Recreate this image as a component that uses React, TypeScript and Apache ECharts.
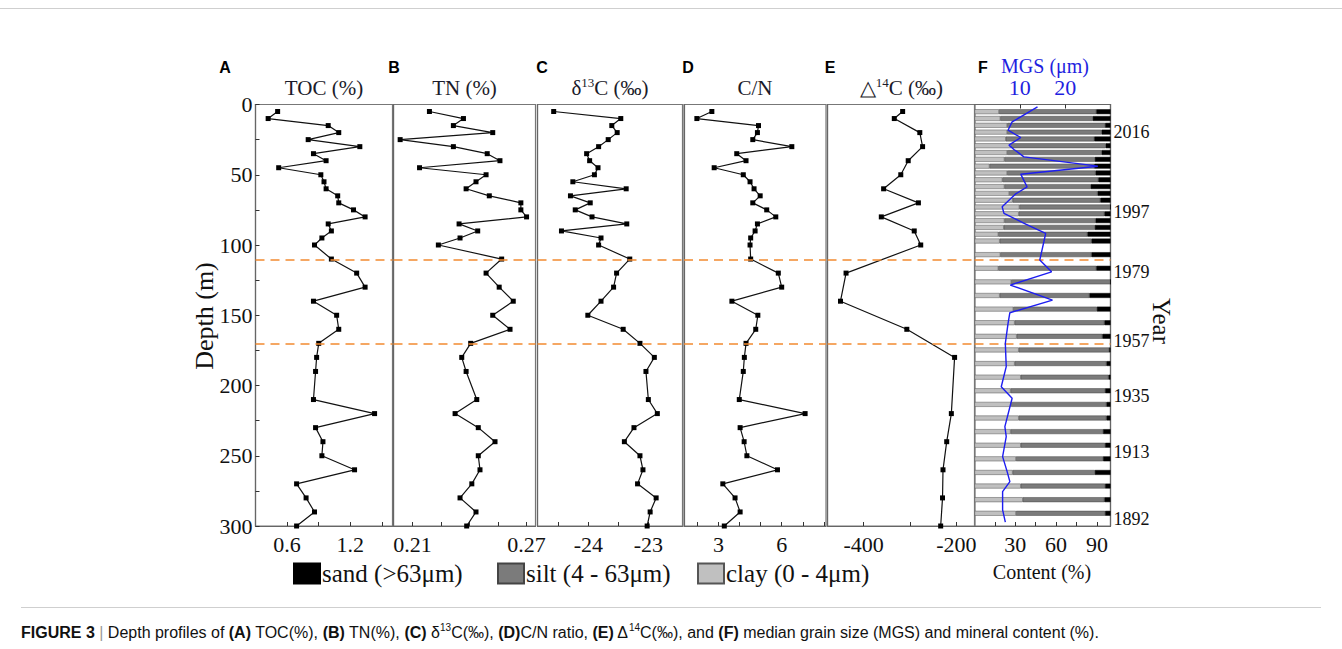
import React, { useEffect, useRef } from 'react';
import * as echarts from 'echarts';

// ---------- data ----------
const depths = [5, 10, 15, 20, 25, 30, 35, 40, 45, 50, 55, 60, 65, 70, 75, 80, 85, 90, 95, 100,
  110, 120, 130, 140, 150, 160, 170, 180, 190, 210, 220, 230, 240, 250, 260, 270, 280, 290, 300];
const toc = [0.51, 0.42, 0.99, 1.09, 0.80, 1.29, 0.85, 0.97, 0.52, 0.92, 0.95, 0.97, 1.08, 1.09, 1.23, 1.34, 0.99, 1.02, 0.93, 0.86,
  1.02, 1.26, 1.34, 0.85, 1.07, 1.09, 0.90, 0.88, 0.87, 0.85, 1.43, 0.87, 0.94, 0.93, 1.24, 0.69, 0.78, 0.86, 0.69];
const tn = [0.2189, 0.2368, 0.2315, 0.2522, 0.2035, 0.2315, 0.2493, 0.2560, 0.2137, 0.2487, 0.2434, 0.2382, 0.2504, 0.2670, 0.2670, 0.2700, 0.2345, 0.2443, 0.2350, 0.2236,
  0.2569, 0.2487, 0.2556, 0.2630, 0.2522, 0.2613, 0.2406, 0.2359, 0.2382, 0.2438, 0.2324, 0.2446, 0.2534, 0.2446, 0.2455, 0.2412, 0.2350, 0.2434, 0.2385];
const d13c = [-24.58, -23.46, -23.61, -23.52, -23.67, -23.83, -24.03, -23.98, -23.84, -23.90, -24.26, -23.37, -24.30, -23.97, -24.22, -23.94, -23.36, -24.45, -23.79, -23.83,
  -23.31, -23.53, -23.58, -23.79, -24.01, -23.42, -23.14, -22.90, -23.04, -23.00, -22.85, -23.24, -23.40, -23.14, -23.09, -23.18, -22.87, -22.97, -23.02];
const cn = [2.69, 1.98, 4.90, 4.85, 4.63, 6.48, 3.87, 4.31, 2.80, 4.18, 4.50, 4.69, 4.98, 4.63, 5.29, 5.72, 4.85, 4.74, 4.53, 4.50,
  4.53, 5.84, 6.00, 3.64, 4.87, 4.77, 4.31, 4.23, 4.18, 3.99, 7.11, 4.03, 4.22, 4.35, 5.80, 3.21, 3.79, 4.03, 3.28];
const depthsE = [5, 10, 20, 30, 40, 50, 60, 70, 80, 90, 100, 120, 140, 160, 180, 220, 240, 260, 280, 300];
const d14c = [-316, -334, -279, -273, -304, -320, -357, -282, -362, -291, -277, -438, -450, -307, -204, -211, -221, -229, -230, -234];

const mgsDepths = [1.7, 12.4, 18.3, 23.5, 28.9, 32, 37.3, 43.9, 49.6, 58.6, 63.8, 72.8, 77.5, 85.1, 91.7, 97.7, 110.7, 119.1, 128.5, 139.2,
  148.2, 155.8, 170, 186.6, 200.9, 209.1, 229.3, 236.4, 250.6, 261.3, 268.4, 275.5, 288.5, 297.3];
const mgs = [13.9, 8.3, 7.4, 10.2, 7.6, 8.7, 10.9, 27.2, 10.2, 11.6, 9.0, 6.1, 6.5, 11.3, 15.7, 15.3, 14.4, 17.0, 7.9, 17.2,
  7.8, 7.4, 6.8, 7.0, 5.9, 8.3, 6.7, 7.0, 6.2, 7.2, 7.8, 6.2, 6.2, 6.8];

const N = null;
const clay = [18, 19, 24, 24, 23, 27, 24, 22, 11, 24, 20.5, 22, 25.5, 28, 33, 32.5, 22, 21.5, 17.5, 18.5,
  N, 19, N, 17.5, N, 27, N, 18.5, N, 28.5, N, 29.5, N, 31, N, 32.5, N, 29.5, N, 34, N, 26.5, N, 27, N, 32.5, N, 26.5, N, 34, N, 30.5, N, 28, N, 34, N, 35.5, N, 30.5, N];
const silt = [71.5, 68, 72, 69.5, 65, 69.5, 69.5, 66.5, 77, 65, 70.5, 63.5, 65, 64.5, 67, 63, 67, 67, 65.5, 67.5,
  N, 67, N, 72, N, 73, N, 66, N, 61.5, N, 66, N, 63, N, 66.5, N, 67.5, N, 64.5, N, 69.5, N, 70, N, 64.5, N, 68, N, 62, N, 64, N, 60.5, N, 62, N, 60, N, 65.5, N];
const sand = [10.5, 13, 4, 6.5, 12, 3.5, 6.5, 11.5, 12, 11, 9, 14.5, 9.5, 7.5, 0, 4.5, 11, 11.5, 17, 14,
  N, 14, N, 10.5, N, 0, N, 15.5, N, 10, N, 4.5, N, 6, N, 1, N, 3, N, 1.5, N, 4, N, 3, N, 3, N, 5.5, N, 4, N, 5.5, N, 11.5, N, 4, N, 4.5, N, 4, N];

const yearDepths = [19.5, 76.5, 119, 168, 207.5, 247.5, 295];
const yearLabels = ['2016', '1997', '1979', '1957', '1935', '1913', '1892'];
const boundaryDepths = [110.7, 170];

const depthTicks = [0, 25, 50, 75, 100, 125, 150, 175, 200, 225, 250, 275, 300];
const depthLabels = [0, 50, 100, 150, 200, 250, 300];
const tocTicks = [0.6, 0.9, 1.2, 1.5];
const tocLabels = [0.6, 1.2];
const tnTicks = [0.21, 0.225, 0.24, 0.255, 0.27];
const tnLabels = [0.21, 0.27];
const d13cTicks = [-24.5, -24, -23.5, -23];
const d13cLabels = [-24, -23];
const cnTicks = [2, 3, 4, 5, 6, 7, 8];
const cnLabels = [3, 6];
const d14cTicks = [-400, -300, -200];
const d14cLabels = [-400, -200];
const contentTicks = [15, 30, 45, 60, 75, 90];
const contentLabels = [30, 60, 90];
const mgsTicks = [10, 20];
const mgsLabels = [10, 20];

const legendNames = ['sand (>63μm)', 'silt (4 - 63μm)', 'clay (0 - 4μm)'];

const SERIF = '"Liberation Serif", "Times New Roman", serif';
const SANS = '"Liberation Sans", Arial, Helvetica, sans-serif';

const TOP = 104.5;
const H = 421.5;

const panels = [
  { left: 255.5, width: 137, min: 0.3, max: 1.6, ticks: tocTicks, labels: tocLabels, values: toc, dep: depths, title: '{t|TOC (%)}' },
  { left: 393.5, width: 142, min: 0.2, max: 0.2747, ticks: tnTicks, labels: tnLabels, values: tn, dep: depths, title: '{t|TN (%)}' },
  { left: 537.5, width: 145, min: -24.85, max: -22.43, ticks: d13cTicks, labels: d13cLabels, values: d13c, dep: depths, title: '{t|δ}{s|13}{t|C (‰)}' },
  { left: 684, width: 142, min: 1.37, max: 8.1, ticks: cnTicks, labels: cnLabels, values: cn, dep: depths, title: '{t|C/N}' },
  { left: 827.5, width: 147.5, min: -478, max: -160, ticks: d14cTicks, labels: d14cLabels, values: d14c, dep: depthsE, title: '{t|△}{s|14}{t|C (‰)}' },
];
const F = { left: 974.5, width: 136 };

const orange = '#F28A30';
const markLine = {
  silent: true,
  symbol: ['none', 'none'],
  label: { show: false },
  lineStyle: { color: orange, type: [9, 6], width: 1.6 },
  data: boundaryDepths.map((d) => ({ yAxis: d })),
};

function buildOption() {
  const grid: any[] = [];
  const xAxis: any[] = [];
  const yAxis: any[] = [];
  const series: any[] = [];
  const graphic: any[] = [];

  const tickLabelStyle = { fontSize: 22, fontFamily: SERIF, color: '#111' };

  panels.forEach((p, i) => {
    grid.push({ left: p.left, top: TOP, width: p.width, height: H, show: true, borderColor: '#777', borderWidth: 1.2, containLabel: false });
    xAxis.push({
      type: 'value', gridIndex: i, min: p.min, max: p.max, position: 'bottom',
      axisLine: { show: true, onZero: false, lineStyle: { color: '#666', width: 1.2 } },
      axisTick: { show: true, inside: true, length: 4, customValues: p.ticks, lineStyle: { color: '#333' } },
      axisLabel: { show: true, customValues: p.labels, margin: 7, ...tickLabelStyle, formatter: (v: number) => String(v) },
      splitLine: { show: false },
    });
    yAxis.push({
      type: 'value', gridIndex: i, min: 0, max: 300, inverse: true,
      axisLine: { show: true, onZero: false, lineStyle: { color: '#666', width: 1.2 } },
      axisTick: i === 0 ? { show: true, inside: true, length: 4, customValues: depthTicks, lineStyle: { color: '#333' } } : { show: false },
      axisLabel: i === 0 ? { show: true, customValues: depthLabels, margin: 3, ...tickLabelStyle } : { show: false },
      splitLine: { show: false },
    });
    series.push({
      type: 'line', xAxisIndex: i, yAxisIndex: i,
      data: p.values.map((v, k) => [v, p.dep[k]]),
      symbol: 'rect', symbolSize: 5, showSymbol: true,
      lineStyle: { color: '#111', width: 1.2 },
      itemStyle: { color: '#000' },
      markLine,
      z: 3,
    });
    const cx = p.left + p.width / 2;
    graphic.push({
      type: 'text', x: cx, y: 88,
      style: {
        text: p.title, align: 'center', verticalAlign: 'middle',
        rich: {
          t: { fontSize: 21, fontFamily: SERIF, fill: '#1b1b2a', lineHeight: 25 },
          s: { fontSize: 13, fontFamily: SERIF, fill: '#1b1b2a', verticalAlign: 'top', lineHeight: 25 },
        },
      },
    });
  });
  const letterX = [225, 394, 542, 688, 830, 983];
  ['A', 'B', 'C', 'D', 'E', 'F'].forEach((l, i) => {
    graphic.push({ type: 'text', x: letterX[i], y: 67, style: { text: l, fontSize: 16, fontWeight: 'bold', fontFamily: SANS, fill: '#000', align: 'center', verticalAlign: 'middle' } });
  });

  // F frame grid (index 5)
  grid.push({ left: F.left, top: TOP, width: F.width, height: H, show: true, borderColor: '#777', borderWidth: 1.2 });
  // F bars grid (index 6)
  grid.push({ left: F.left, top: 108.3, width: F.width, height: 415.2, show: false });

  xAxis.push({
    type: 'value', gridIndex: 5, min: 0, max: 100, position: 'bottom',
    axisLine: { show: true, onZero: false, lineStyle: { color: '#666', width: 1.2 } },
    axisTick: { show: true, inside: true, length: 4, customValues: contentTicks, lineStyle: { color: '#333' } },
    axisLabel: { show: true, customValues: contentLabels, margin: 7, ...tickLabelStyle },
    splitLine: { show: false },
  });
  xAxis.push({
    type: 'value', gridIndex: 5, min: 0, max: 30, position: 'top',
    axisLine: { show: true, onZero: false, lineStyle: { color: '#666', width: 1.2 } },
    axisTick: { show: true, inside: true, length: 4, customValues: mgsTicks, lineStyle: { color: '#333' } },
    axisLabel: { show: true, customValues: mgsLabels, margin: 6, fontSize: 22, fontFamily: SERIF, color: '#1f1fe0' },
    splitLine: { show: false },
  });
  xAxis.push({ type: 'value', gridIndex: 6, min: 0, max: 100, show: false });

  yAxis.push({
    type: 'value', gridIndex: 5, min: 0, max: 300, inverse: true, position: 'right',
    axisLine: { show: true, onZero: false, lineStyle: { color: '#666', width: 1.2 } },
    axisTick: { show: false },
    axisLabel: {
      show: true, customValues: yearDepths, margin: 3, fontSize: 18, fontFamily: SERIF, color: '#111',
      formatter: (v: number) => {
        let best = 0;
        yearDepths.forEach((d, k) => { if (Math.abs(d - v) < Math.abs(yearDepths[best] - v)) best = k; });
        return yearLabels[best];
      },
    },
    splitLine: { show: false },
  });
  yAxis.push({ type: 'category', gridIndex: 6, inverse: true, data: clay.map((_, k) => String(k)), show: false });

  const barCommon = { type: 'bar', xAxisIndex: 7, yAxisIndex: 6, stack: 'mineral', barCategoryGap: '28%', z: 2 };
  series.push({ ...barCommon, name: legendNames[2], data: clay, itemStyle: { color: '#c0c0c0', borderColor: '#555', borderWidth: 0.5 } });
  series.push({ ...barCommon, name: legendNames[1], data: silt, itemStyle: { color: '#7b7b7b', borderColor: '#444', borderWidth: 0.5 } });
  series.push({ ...barCommon, name: legendNames[0], data: sand, itemStyle: { color: '#000', borderColor: '#000', borderWidth: 0.5 } });

  series.push({
    type: 'line', name: 'MGS', xAxisIndex: 6, yAxisIndex: 5,
    data: mgs.map((v, k) => [v, mgsDepths[k]]),
    showSymbol: false, symbol: 'none',
    lineStyle: { color: '#1d1df0', width: 1.4 },
    markLine, z: 5,
  });

  graphic.push({ type: 'text', x: 1045, y: 66, style: { text: 'MGS (μm)', fontSize: 20, fontFamily: SERIF, fill: '#1f1fe0', align: 'center', verticalAlign: 'middle' } });
  graphic.push({ type: 'text', x: 1042, y: 572, style: { text: 'Content (%)', fontSize: 20, fontFamily: SERIF, fill: '#111', align: 'center', verticalAlign: 'middle' } });
  graphic.push({ type: 'text', x: 204, y: 316, rotation: Math.PI / 2, style: { text: 'Depth (m)', fontSize: 26, fontFamily: SERIF, fill: '#111', align: 'center', verticalAlign: 'middle' } });
  graphic.push({ type: 'text', x: 1161, y: 321, rotation: -Math.PI / 2, style: { text: 'Year', fontSize: 25, fontFamily: SERIF, fill: '#111', align: 'center', verticalAlign: 'middle' } });

  graphic.push({ type: 'line', shape: { x1: 0, y1: 8.5, x2: 1342, y2: 8.5 }, style: { stroke: '#cfcfcf', lineWidth: 1 } });
  graphic.push({ type: 'line', shape: { x1: 21, y1: 607.5, x2: 1321, y2: 607.5 }, style: { stroke: '#cfcfcf', lineWidth: 1 } });

  graphic.push({
    type: 'text', x: 21, y: 632,
    style: {
      text: '{b|FIGURE 3}{g| | }{n|Depth profiles of }{b|(A)}{n| TOC(%), }{b|(B)}{n| TN(%), }{b|(C)}{n| δ}{s|13}{n|C(‰), }{b|(D)}{n|C/N ratio, }{b|(E)}{n| Δ}{s|14}{n|C(‰), and }{b|(F)}{n| median grain size (MGS) and mineral content (%).}',
      verticalAlign: 'middle', align: 'left',
      rich: {
        b: { fontSize: 16, fontFamily: SANS, fontWeight: 'bold', fill: '#111', lineHeight: 20 },
        n: { fontSize: 16, fontFamily: SANS, fill: '#111', lineHeight: 20 },
        g: { fontSize: 16, fontFamily: SANS, fill: '#999', lineHeight: 20 },
        s: { fontSize: 10, fontFamily: SANS, fill: '#111', verticalAlign: 'top', lineHeight: 20 },
      },
    },
  });

  const legendLefts = [288, 492, 692];
  const legend = legendNames.map((name, k) => ({
    data: [name],
    left: legendLefts[k], top: 556, orient: 'horizontal', padding: 5,
    icon: 'rect', itemWidth: 26, itemHeight: 20, itemGap: 0,
    textStyle: { fontSize: 25, fontFamily: SERIF, color: '#111', padding: [0, 0, 0, -3] },
    selectedMode: false,
  }));

  return {
    animation: false,
    backgroundColor: '#fff',
    grid, xAxis, yAxis, series, graphic, legend,
  };
}

export default function App() {
  const ref = useRef<HTMLDivElement>(null);
  useEffect(() => {
    if (!ref.current) return;
    const chart = echarts.init(ref.current, undefined, { renderer: 'svg' });
    chart.setOption(buildOption() as any);
    return () => chart.dispose();
  }, []);
  return <div ref={ref} style={{ position: 'absolute', left: 0, top: 0, width: 1342, height: 649 }} />;
}
